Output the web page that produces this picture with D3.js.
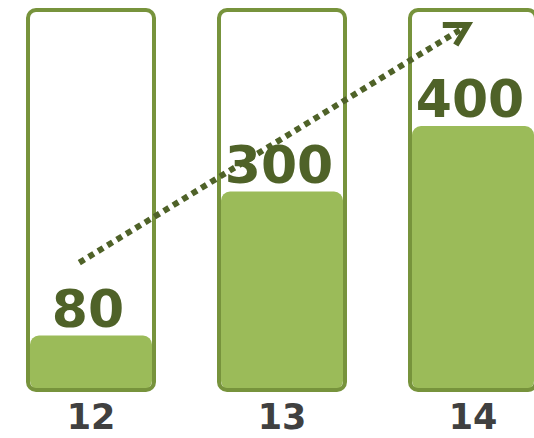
<!DOCTYPE html>
<html>
<head>
<meta charset="utf-8">
<script src="https://cdnjs.cloudflare.com/ajax/libs/d3/7.8.5/d3.min.js"></script>
<style>
  body { margin: 0; background: #fff; }
  .val { font-family: "DejaVu Sans", Verdana, sans-serif; font-weight: bold; fill: #4f6228; }
  .cat { font-family: "DejaVu Sans", Verdana, sans-serif; font-weight: bold; fill: #404040; }
</style>
</head>
<body>
<div id="canvas"></div>
<script>
// data
var categories = ["12", "13", "14"];
var values = [80, 300, 400];

var W = 534, H = 438;

var svg = d3.select('#canvas')
    .append('svg')
    .attr('width', W)
    .attr('height', H);

// container boxes: 130 wide, step ~191
var scaleX = d3.scaleBand()
    .domain(categories)
    .range([26, 538])
    .paddingInner(61 / 191)
    .paddingOuter(0);
var bw = scaleX.bandwidth();

var boxTop = 8, boxBottom = 392, base = 388;

var scaleY = d3.scaleLinear()
    .domain([0, 400])
    .range([base, 126]);

var rows = categories.map(function(c, i) { return {cat: c, val: values[i]}; });

// filled bars
svg.selectAll('rect.fill')
    .data(rows)
    .enter()
    .append('rect')
    .attr('class', 'fill')
    .attr('x', function(d) { return scaleX(d.cat) + 4; })
    .attr('y', function(d) { return scaleY(d.val); })
    .attr('width', bw - 8)
    .attr('height', function(d) { return base + 2 - scaleY(d.val); })
    .attr('rx', 9)
    .attr('fill', '#9bbb59');

// outline containers
svg.selectAll('rect.box')
    .data(rows)
    .enter()
    .append('rect')
    .attr('class', 'box')
    .attr('x', function(d) { return scaleX(d.cat) + 2; })
    .attr('y', boxTop + 2)
    .attr('width', bw - 4)
    .attr('height', boxBottom - boxTop - 4)
    .attr('rx', 8)
    .attr('fill', 'none')
    .attr('stroke', '#77933c')
    .attr('stroke-width', 4);

// value labels
svg.selectAll('text.val')
    .data(rows)
    .enter()
    .append('text')
    .attr('class', 'val')
    .attr('x', function(d) { return scaleX(d.cat) + bw / 2 - 3; })
    .attr('y', function(d) { return scaleY(d.val) - 9; })
    .attr('text-anchor', 'middle')
    .style('font-size', '52px')
    .text(function(d) { return d.val; });

// category labels
svg.selectAll('text.cat')
    .data(rows)
    .enter()
    .append('text')
    .attr('class', 'cat')
    .attr('x', function(d) { return scaleX(d.cat) + bw / 2; })
    .attr('y', 429)
    .attr('text-anchor', 'middle')
    .style('font-size', '35px')
    .text(function(d) { return d.cat; });

// trend arrow (dotted)
var x0 = scaleX(categories[0]) + bw * 0.41,
    y0 = scaleY(values[0]) - 73,
    x1 = scaleX(categories[2]) + bw * 0.46,
    y1 = boxTop + 17;

svg.append('line')
    .attr('x1', x0).attr('y1', y0)
    .attr('x2', x1 - 8).attr('y2', y1 + 5)
    .attr('stroke', '#4f6228')
    .attr('stroke-width', 6)
    .attr('stroke-dasharray', '6,5');

svg.append('path')
    .attr('d', 'M' + (x1 - 25) + ',' + y1 + 'L' + x1 + ',' + y1 + 'L' + (x1 - 12) + ',' + (y1 + 20))
    .attr('fill', 'none')
    .attr('stroke', '#4f6228')
    .attr('stroke-width', 6)
    .attr('stroke-linejoin', 'miter');
</script>
</body>
</html>
